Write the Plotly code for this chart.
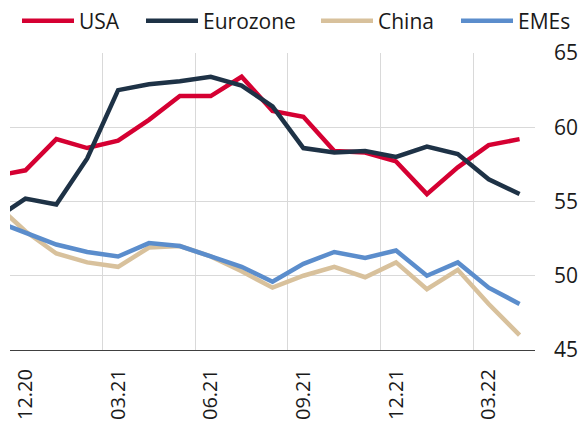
import plotly.graph_objects as go

months = ["11.20", "12.20", "01.21", "02.21", "03.21", "04.21", "05.21", "06.21", "07.21",
          "08.21", "09.21", "10.21", "11.21", "12.21", "01.22", "02.22", "03.22", "04.22"]
usa = [56.7, 57.1, 59.2, 58.6, 59.1, 60.5, 62.1, 62.1, 63.4, 61.1, 60.7, 58.4, 58.3, 57.7, 55.5, 57.3, 58.8, 59.2]
eurozone = [53.8, 55.2, 54.8, 57.9, 62.5, 62.9, 63.1, 63.4, 62.8, 61.4, 58.6, 58.3, 58.4, 58.0, 58.7, 58.2, 56.5, 55.5]
china = [54.9, 53.0, 51.5, 50.9, 50.6, 51.9, 52.0, 51.3, 50.3, 49.2, 50.0, 50.6, 49.9, 50.9, 49.1, 50.4, 48.1, 46.0]
emes = [53.7, 52.9, 52.1, 51.6, 51.3, 52.2, 52.0, 51.3, 50.6, 49.6, 50.8, 51.6, 51.2, 51.7, 50.0, 50.9, 49.2, 48.1]
tick_labels = ["12.20", "03.21", "06.21", "09.21", "12.21", "03.22"]
y_ticks = [45, 50, 55, 60, 65]

series = [("USA", usa, "#d50032"), ("Eurozone", eurozone, "#1e3246"),
          ("China", china, "#d8c19c"), ("EMEs", emes, "#5b8dcc")]
legend_x = [17, 141, 316, 456]  # left edge of each legend entry, px

W, H = 585, 423
x = list(range(len(months)))
tick_idx = [months.index(t) for t in tick_labels]
font = dict(family="Open Sans", size=21, color="#1a1a1a")

fig = go.Figure()
legend_layout = {}
for k, (name, vals, col) in enumerate(series):
    lid = "legend" if k == 0 else f"legend{k + 1}"
    fig.add_trace(go.Scatter(x=x, y=vals, name=name, mode="lines", legend=lid,
                             line=dict(color=col, width=4.5)))
    legend_layout[lid] = dict(orientation="h", xref="container", yref="container",
                              x=legend_x[k] / W, y=1 - 21 / H, xanchor="left", yanchor="middle",
                              itemwidth=52, font=font, bgcolor="rgba(0,0,0,0)",
                              borderwidth=0)

fig.update_layout(
    width=W, height=H,
    margin=dict(l=10, r=50, t=53, b=73, autoexpand=False),
    paper_bgcolor="white", plot_bgcolor="white",
    font=font,
    showlegend=True,
    xaxis=dict(range=[0.5, len(months) - 0.5], tickmode="array",
               tickvals=tick_idx, ticktext=tick_labels, tickangle=-90,
               showgrid=False, zeroline=False, ticks="",
               showline=True, linecolor="#404040", linewidth=1,
               ticklabelstandoff=10, automargin=False,
               tickfont=dict(family="Open Sans", size=20, color="#1a1a1a"),
               minor=dict(tickmode="array", tickvals=[i - 0.5 for i in tick_idx],
                          showgrid=True, gridcolor="#d9d9d9", gridwidth=1, ticks="")),
    yaxis=dict(range=[y_ticks[0], y_ticks[-1]], side="right", tickmode="array",
               tickvals=y_ticks, showgrid=True, gridcolor="#d9d9d9", gridwidth=1,
               zeroline=False, ticks="", showline=False, ticklabelstandoff=18,
               automargin=False),
    **legend_layout,
)

fig.write_html("out.html", config={"displayModeBar": False},
               post_script="document.body.style.margin='0px';document.body.style.padding='0px';")
